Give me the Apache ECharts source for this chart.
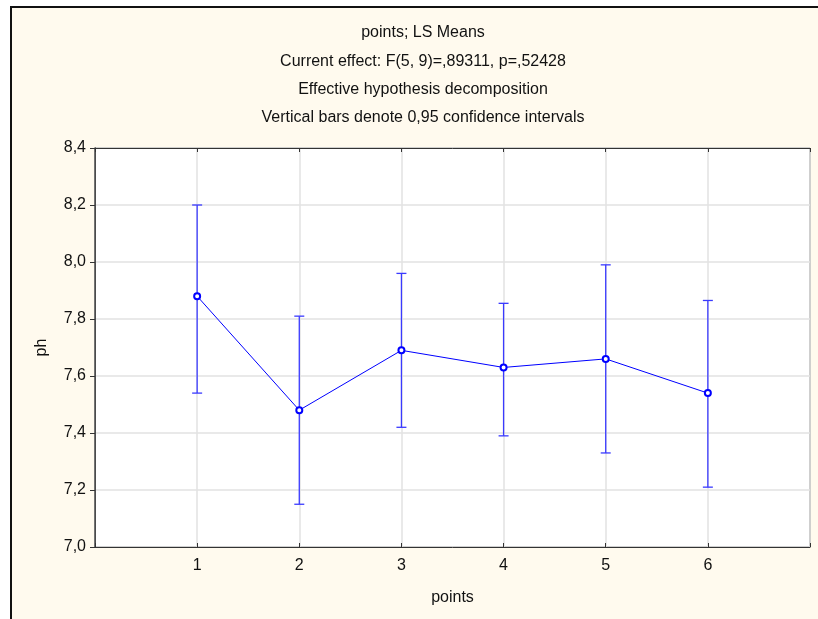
<!DOCTYPE html>
<html>
<head>
<meta charset="utf-8">
<script src="https://cdn.jsdelivr.net/npm/echarts@6/dist/echarts.min.js"></script>
<style>
html,body{margin:0;padding:0;background:#ffffff;}
#chart{width:818px;height:619px;}
</style>
</head>
<body>
<div id="chart"></div>
<script>
var categories = [1, 2, 3, 4, 5, 6];
var means = [7.88, 7.48, 7.69, 7.63, 7.66, 7.54];
var lowerCI = [7.54, 7.15, 7.42, 7.39, 7.33, 7.21];
var upperCI = [8.20, 7.81, 7.96, 7.855, 7.99, 7.865];
var titleLines = [
  'points; LS Means',
  'Current effect: F(5, 9)=,89311, p=,52428',
  'Effective hypothesis decomposition',
  'Vertical bars denote 0,95 confidence intervals'
];

var FONT = 'Liberation Sans, Arial, sans-serif';
var chart = echarts.init(document.getElementById('chart'));

var meanData = categories.map(function (c, i) { return [c, means[i]]; });
var ciData = categories.map(function (c, i) { return [c, lowerCI[i], upperCI[i]]; });

var titleGraphics = titleLines.map(function (t, i) {
  return {
    type: 'text', x: 423, y: 33 + i * 28.3, z: 10,
    style: { text: t, font: '16px ' + FONT, fill: '#111', align: 'center', verticalAlign: 'middle' }
  };
});

var gridLine = { show: true, lineStyle: { color: '#e2e2e2', width: 1.5 } };

var option = {
  animation: false,
  backgroundColor: '#ffffff',
  graphic: [
    {
      type: 'rect', z: -10, silent: true,
      shape: { x: 11, y: 7, width: 830, height: 640 },
      style: { fill: '#fffaee', stroke: '#111111', lineWidth: 2 }
    }
  ].concat(titleGraphics),
  grid: {
    left: 95, right: 8, top: 148, bottom: 72,
    show: true, backgroundColor: '#ffffff', borderColor: '#333333', borderWidth: 1
  },
  xAxis: [
    {
      type: 'value', min: 0, max: 7, interval: 1,
      name: 'points', nameLocation: 'middle', nameGap: 43,
      nameTextStyle: { fontFamily: FONT, fontSize: 16, color: '#111' },
      axisLine: { show: true, onZero: false, lineStyle: { color: '#333', width: 1 } },
      axisTick: { show: true, inside: true, length: 4, lineStyle: { color: '#333' } },
      axisLabel: {
        margin: 11, fontFamily: FONT, fontSize: 16, color: '#111',
        formatter: function (v) { return (v >= 1 && v <= 6) ? String(v) : ''; }
      },
      splitLine: gridLine
    },
    {
      type: 'value', position: 'top', min: 0, max: 7, interval: 1,
      axisLine: { show: true, onZero: false, lineStyle: { color: '#333', width: 1 } },
      axisTick: { show: true, inside: true, length: 4, lineStyle: { color: '#333' } },
      axisLabel: { show: false },
      splitLine: { show: false }
    }
  ],
  yAxis: [
    {
      type: 'value', min: 7.0, max: 8.4, interval: 0.2,
      name: 'ph', nameLocation: 'middle', nameGap: 45, nameRotate: 90,
      nameTextStyle: { fontFamily: FONT, fontSize: 16, color: '#111' },
      axisLine: { show: true, lineStyle: { color: '#333', width: 1 } },
      axisTick: { show: true, inside: false, length: 5, lineStyle: { color: '#333' } },
      axisLabel: {
        margin: 9, fontFamily: FONT, fontSize: 16, color: '#111',
        formatter: function (v) { return v.toFixed(1).replace('.', ','); }
      },
      splitLine: gridLine
    },
    {
      type: 'value', position: 'right', min: 7.0, max: 8.4, interval: 0.2,
      axisLine: { show: true, lineStyle: { color: '#555', width: 1.5 } },
      axisTick: { show: true, inside: true, length: 4, lineStyle: { color: '#333' } },
      axisLabel: { show: false },
      splitLine: { show: false }
    }
  ],
  series: [
    {
      type: 'custom',
      z: 3,
      data: ciData,
      renderItem: function (params, api) {
        var x = api.value(0);
        var lo = api.coord([x, api.value(1)]);
        var hi = api.coord([x, api.value(2)]);
        var hw = 5;
        var st = { stroke: '#3a3aff', lineWidth: 1.3 };
        return {
          type: 'group',
          children: [
            { type: 'line', shape: { x1: lo[0], y1: lo[1], x2: hi[0], y2: hi[1] }, style: st },
            { type: 'line', shape: { x1: lo[0] - hw, y1: lo[1], x2: lo[0] + hw, y2: lo[1] }, style: st },
            { type: 'line', shape: { x1: hi[0] - hw, y1: hi[1], x2: hi[0] + hw, y2: hi[1] }, style: st }
          ]
        };
      }
    },
    {
      type: 'line',
      z: 4,
      data: meanData,
      symbol: 'circle',
      symbolSize: 6,
      lineStyle: { color: '#0000ff', width: 1 },
      itemStyle: { color: '#ffffff', borderColor: '#0000ff', borderWidth: 2 }
    }
  ]
};
chart.setOption(option);
</script>
</body>
</html>
